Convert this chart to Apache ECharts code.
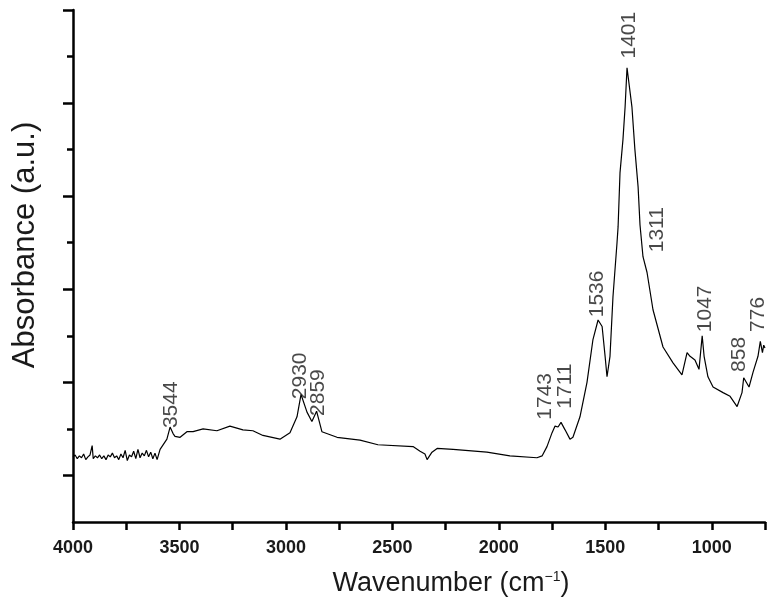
<!DOCTYPE html>
<html>
<head>
<meta charset="utf-8">
<script src="https://cdn.jsdelivr.net/npm/echarts@6/dist/echarts.min.js"></script>
<style>
    html, body { margin: 0; padding: 0; background: #fff; }
    #chart { width: 776px; height: 613px; }
</style>
</head>
<body>
<div id="chart"></div>
<script>
// FTIR spectrum, wavenumber (cm-1) vs absorbance (a.u.)
var wavenumber = [
    4000, 3990, 3980, 3970, 3960, 3950, 3940, 3930, 3920, 3910, 3905, 3895, 3885, 3875, 3865,
    3855, 3845, 3835, 3825, 3815, 3805, 3795, 3785, 3775, 3765, 3755, 3745, 3735, 3725, 3715,
    3705, 3695, 3685, 3675, 3665, 3655, 3645, 3635, 3625, 3615, 3605, 3591, 3559, 3544, 3530,
    3521, 3497, 3465, 3436, 3389, 3324, 3263, 3202, 3155, 3108, 3028, 2981, 2948, 2929, 2901,
    2878, 2856, 2831, 2760, 2652, 2568, 2403, 2370, 2347, 2337, 2314, 2290, 2215, 2056, 1948,
    1821, 1797, 1774, 1750, 1736, 1722, 1708, 1689, 1666, 1652, 1619, 1586, 1558, 1534, 1515,
    1501, 1492, 1478, 1464, 1445, 1440, 1431, 1417, 1407, 1398, 1375, 1361, 1346, 1337, 1323,
    1304, 1276, 1229, 1182, 1140, 1116, 1102, 1079, 1060, 1045, 1036, 1018, 994, 947, 914,
    881, 858, 850, 825, 806, 783, 772, 762, 756, 750
];
var absorbance = [
    0.20, 0.22, 0.18, 0.21, 0.19, 0.23, 0.17, 0.20, 0.22, 0.32, 0.18, 0.21, 0.19, 0.22, 0.18,
    0.21, 0.17, 0.22, 0.20, 0.24, 0.19, 0.21, 0.17, 0.23, 0.19, 0.27, 0.16, 0.22, 0.20, 0.26,
    0.18, 0.28, 0.19, 0.24, 0.21, 0.27, 0.20, 0.25, 0.18, 0.24, 0.17, 0.28, 0.39, 0.52, 0.45,
    0.42, 0.41, 0.47, 0.47, 0.50, 0.48, 0.53, 0.49, 0.48, 0.43, 0.39, 0.46, 0.63, 0.87, 0.68,
    0.58, 0.69, 0.47, 0.41, 0.38, 0.33, 0.31, 0.26, 0.23, 0.17, 0.25, 0.29, 0.28, 0.25, 0.21,
    0.19, 0.21, 0.31, 0.46, 0.53, 0.52, 0.57, 0.49, 0.39, 0.41, 0.63, 1.00, 1.46, 1.67, 1.60,
    1.28, 1.06, 1.28, 1.92, 2.50, 2.67, 3.25, 3.61, 3.96, 4.38, 3.96, 3.50, 3.10, 2.69, 2.35,
    2.18, 1.78, 1.38, 1.21, 1.08, 1.32, 1.28, 1.24, 1.14, 1.50, 1.28, 1.06, 0.95, 0.89, 0.85,
    0.74, 0.89, 1.05, 0.95, 1.11, 1.28, 1.44, 1.32, 1.40, 1.37
];

// peak annotations (text, and where the rotated label sits)
var peakText = ['3544', '2930', '2859', '1743', '1711', '1536', '1401', '1311', '1047', '858', '776'];
var peakLabelX = [3540, 2934, 2849, 1783, 1689, 1539, 1389, 1257, 1032, 872, 783];
var peakLabelY = [0.76, 1.07, 0.89, 0.85, 0.96, 1.95, 4.73, 2.64, 1.79, 1.30, 1.73];

var xMajor = [1000, 1500, 2000, 2500, 3000, 3500, 4000];
var xMinor = [750, 1250, 1750, 2250, 2750, 3250, 3750];
var yMajor = [0, 1, 2, 3, 4, 5];
var yMinor = [0.5, 1.5, 2.5, 3.5, 4.5];

var spectrum = [];
for (var i = 0; i < wavenumber.length; i++) {
    spectrum.push([wavenumber[i], absorbance[i]]);
}
var peaks = [];
for (var j = 0; j < peakText.length; j++) {
    peaks.push({value: [peakLabelX[j], peakLabelY[j]], name: peakText[j]});
}

var font = '"Liberation Sans", Arial, sans-serif';
var axisBase = {
    type: 'value',
    splitLine: {show: false}
};
var tickStyle = {color: '#000', width: 2.5};

var myChart = echarts.init(document.getElementById('chart'));
var option = {
    animation: false,
    backgroundColor: '#fff',
    grid: {left: 73, right: 11, top: 10, bottom: 91},
    xAxis: Object.assign({}, axisBase, {
        min: 750, max: 4000, inverse: true,
        position: 'bottom',
        axisLine: {onZero: false, lineStyle: tickStyle},
        axisTick: {customValues: xMajor.concat(xMinor), length: 8, lineStyle: tickStyle},
        axisLabel: {
            customValues: xMajor, margin: 17,
            formatter: function (v) { return String(v); },
            color: '#1a1a1a', fontSize: 18, fontWeight: 'bold', fontFamily: font
        },
        name: '{t|Wavenumber (cm}{s|\u22121}{t|)}',
        nameLocation: 'middle',
        nameGap: 48,
        nameTextStyle: {
            padding: [0, 0, 0, 64],
            rich: {
                t: {fontSize: 27, color: '#1a1a1a', fontFamily: font},
                s: {fontSize: 14, color: '#1a1a1a', fontFamily: font, padding: [0, 0, 14, 0]}
            }
        }
    }),
    yAxis: [
        Object.assign({}, axisBase, {
            min: -0.5, max: 5,
            position: 'left',
            axisLine: {show: true, onZero: false, lineStyle: tickStyle},
            axisTick: {show: true, customValues: yMajor, length: 10, lineStyle: tickStyle},
            axisLabel: {show: false},
            name: 'Absorbance (a.u.)',
            nameLocation: 'middle',
            nameGap: 32,
            nameTextStyle: {fontSize: 31, color: '#1a1a1a', fontFamily: font, padding: [0, 0, 0, 42]}
        }),
        // minor ticks on the left edge
        Object.assign({}, axisBase, {
            min: -0.5, max: 5,
            position: 'left',
            axisLine: {show: false, onZero: false},
            axisTick: {show: true, customValues: yMinor, length: 6, lineStyle: tickStyle},
            axisLabel: {show: false}
        })
    ],
    series: [
        {
            type: 'line',
            yAxisIndex: 0,
            data: spectrum,
            showSymbol: false,
            symbol: 'none',
            lineStyle: {color: '#000', width: 1.2},
            z: 3
        },
        {
            type: 'scatter',
            yAxisIndex: 0,
            data: peaks,
            symbolSize: 0,
            label: {
                show: true,
                position: 'inside',
                rotate: 90,
                formatter: '{b}',
                fontSize: 21,
                color: '#1a1a1a',
                fontFamily: font
            },
            z: 4
        }
    ]
};
myChart.setOption(option);
</script>
</body>
</html>
